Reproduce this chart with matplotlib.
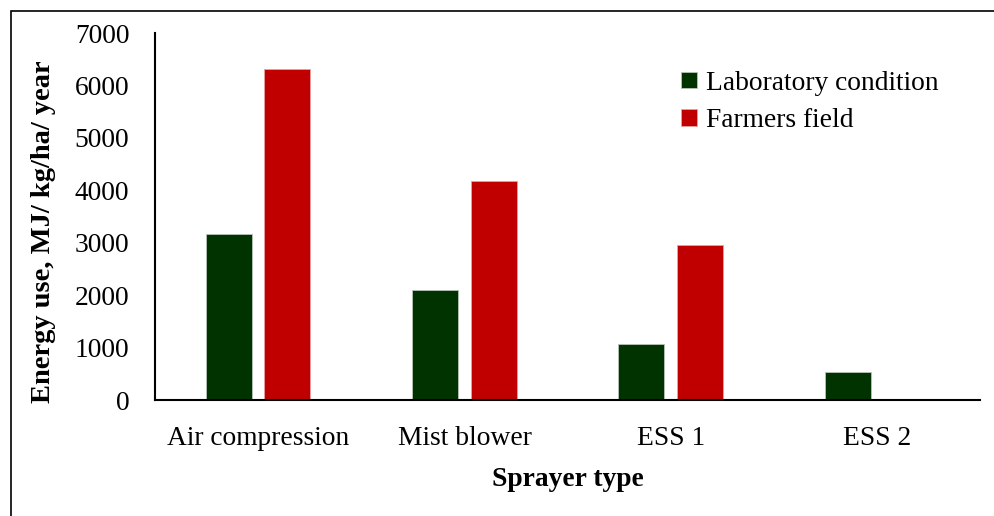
import matplotlib
matplotlib.use('Agg')

import numpy as np
import matplotlib.pyplot as plt
from matplotlib.patches import Rectangle

plt.rcParams['font.family'] = ['Liberation Serif', 'DejaVu Serif']

# Data
sprayers = ["Air compression", "Mist blower", "ESS 1", "ESS 2"]
lab_condition = [3170, 2100, 1070, 530]
farmers_field = [6320, 4180, 2960, 0]

green = '#003300'
red = '#C00000'

fig = plt.figure(figsize=(9.94, 5.16), dpi=100)
ax = fig.add_axes([0.156, 0.2248, 0.83, 0.7112])

x = np.arange(len(sprayers))
width = 0.223
offset = 0.142

ax.bar(x - offset, lab_condition, width, color=green, edgecolor='#b8c4b8',
       linewidth=0.6, label='Laboratory condition')
ax.bar(x + offset, farmers_field, width, color=red, edgecolor='#e8a0a0',
       linewidth=0.6, label='Farmers field')

ax.set_xlim(-0.5, len(sprayers) - 0.5)
ax.set_ylim(0, 7000)
ax.set_yticks(range(0, 7001, 1000))
ax.set_xticks(x)
ax.set_xticklabels(sprayers)

ax.tick_params(axis='both', length=0, labelsize=19.8)
ax.tick_params(axis='y', pad=18.5)
ax.tick_params(axis='x', pad=19)

for side in ['top', 'right']:
    ax.spines[side].set_visible(False)
ax.spines['left'].set_linewidth(1.5)
ax.spines['bottom'].set_linewidth(1.5)

ax.set_xlabel('Sprayer type', fontsize=19.8, fontweight='bold', labelpad=11)
ax.set_ylabel('Energy use, MJ/ kg/ha/ year', fontsize=20.5, fontweight='bold')
ax.yaxis.set_label_coords(-0.12, 0.46)

ax.legend(loc='upper left', bbox_to_anchor=(0.608, 0.965), frameon=False,
          fontsize=19.8, handlelength=0.55, handleheight=0.55, handletextpad=0.35,
          labelspacing=0.45)

# outer border (cropped on the right and bottom)
fig.add_artist(Rectangle((0.011, -0.1), 1.2, 0.1 + 0.979, transform=fig.transFigure,
                         fill=False, edgecolor='black', linewidth=1.2))

fig.savefig('out.png', dpi=100)
